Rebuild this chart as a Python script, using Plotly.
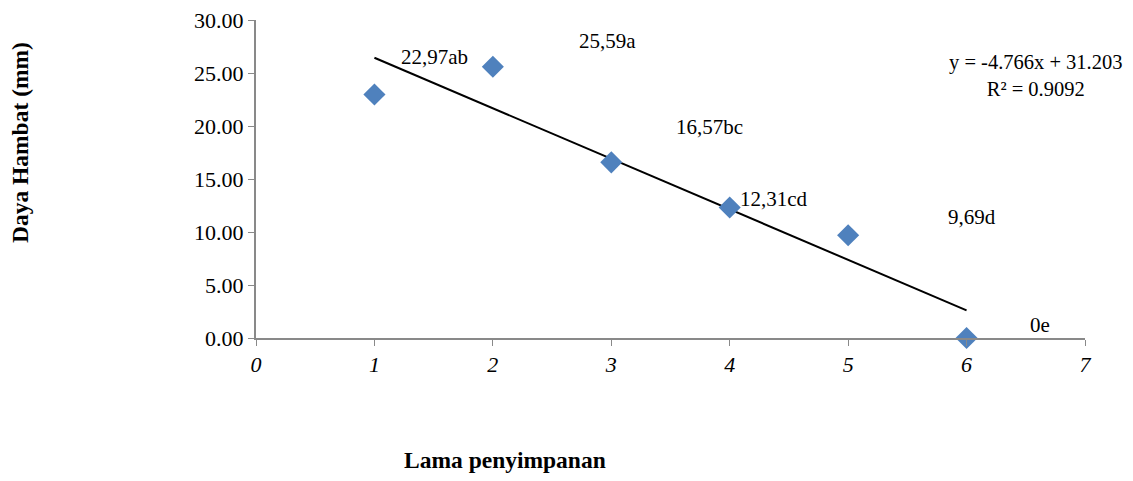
import numpy as np
import plotly.graph_objects as go

storage = [1, 2, 3, 4, 5, 6]
inhibition = [22.97, 25.59, 16.57, 12.31, 9.69, 0.0]
labels = ["22,97ab", "25,59a", "16,57bc", "12,31cd", "9,69d", "0e"]
label_x = [1.51, 2.97, 3.83, 4.37, 6.05, 6.62]
label_y = [26.5, 28.0, 19.9, 13.1, 11.4, 1.2]

slope, intercept = np.polyfit(storage, inhibition, 1)
pred = np.polyval([slope, intercept], storage)
r2 = 1 - np.sum((np.array(inhibition) - pred) ** 2) / np.sum((np.array(inhibition) - np.mean(inhibition)) ** 2)
trend_x = [storage[0], storage[-1]]
trend_y = list(np.polyval([slope, intercept], trend_x))

FONT = "Times New Roman, Liberation Serif, DejaVu Serif, serif"
fig = go.Figure()
fig.add_trace(go.Scatter(x=trend_x, y=trend_y, mode="lines",
                         line=dict(color="black", width=2), showlegend=False, hoverinfo="skip"))
fig.add_trace(go.Scatter(x=storage, y=inhibition, mode="markers",
                         marker=dict(symbol="diamond", size=17, color="#4F81BD",
                                     line=dict(width=0)), showlegend=False, cliponaxis=False))

for lx, ly, t in zip(label_x, label_y, labels):
    fig.add_annotation(x=lx, y=ly, text=t, showarrow=False,
                       font=dict(family=FONT, size=21, color="black"))

eq = f"y = {slope:.3f}x + {intercept:.3f}<br>R² = {r2:.4f}"
fig.add_annotation(x=6.58, y=24.8, text=eq, showarrow=False, align="center",
                   font=dict(family=FONT, size=20.5, color="black"))

# axis titles (placed as annotations to match the reference offsets)
fig.add_annotation(x=-0.2847, y=0.616, xref="paper", yref="paper", text="<b>Daya Hambat (mm)</b>",
                   textangle=-90, showarrow=False, xanchor="center", yanchor="middle",
                   font=dict(family=FONT, size=23.5, color="black"))
fig.add_annotation(x=0.300, y=-0.384, xref="paper", yref="paper", text="<b>Lama penyimpanan</b>",
                   showarrow=False, xanchor="center", yanchor="middle",
                   font=dict(family=FONT, size=23.5, color="black"))

fig.update_layout(
    width=1117, height=465,
    margin=dict(l=248, r=40, t=12, b=135, autoexpand=False),
    plot_bgcolor="white", paper_bgcolor="white",
    font=dict(family=FONT, size=21, color="black"),
    xaxis=dict(range=[0, 7], tickmode="array", tickvals=list(range(8)), automargin=False,
               showgrid=False, zeroline=False, showline=True, linecolor="#898989", linewidth=2,
               ticks="outside", ticklen=6, tickcolor="#898989", tickwidth=1,
               tickfont=dict(family=FONT, size=22, style="italic"), ticklabelstandoff=0,
               ticklabeloverflow="allow"),
    yaxis=dict(range=[0, 30], tickmode="array", tickvals=[0, 5, 10, 15, 20, 25, 30],
               tickformat=".2f", automargin=False,
               showgrid=False, zeroline=False, showline=True, linecolor="#898989", linewidth=2,
               ticks="outside", ticklen=6, tickcolor="#898989", tickwidth=1,
               tickfont=dict(family=FONT, size=22), ticklabeloverflow="allow"),
)

fig.write_html("out.html")
